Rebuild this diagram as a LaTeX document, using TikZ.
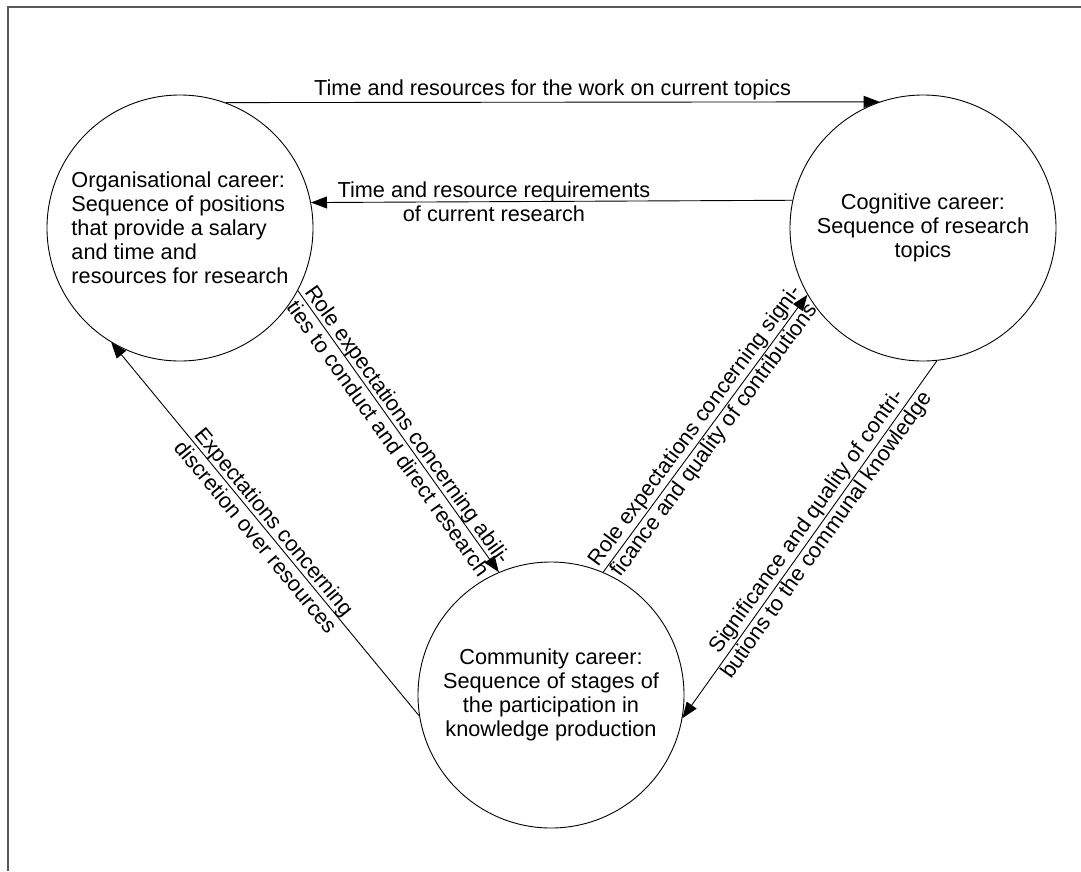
\documentclass[tikz,border=0pt]{standalone}
\usepackage{fontspec}
\setmainfont{Liberation Sans}
\usetikzlibrary{arrows.meta}
\begin{document}
\begin{tikzpicture}[x=1pt,y=-1pt,
  career/.style={circle,draw=black,line width=0.9pt,minimum size=266pt,inner sep=0pt,
    font=\fontsize{21.7}{24}\selectfont},
  flow/.style={draw=black,line width=0.9pt,-{Triangle[length=16pt,width=12pt]}},
  lab/.style={font=\fontsize{21.7}{24}\selectfont,align=center,inner sep=0pt},
  frameline/.style={draw=black!65,line width=1.6pt}]
\useasboundingbox (0,0) rectangle (1081,871);
\coordinate (fa) at (8,871);
\coordinate (fb) at (8,7);
\coordinate (fc) at (1081,7);
\draw[frameline] (fa) -- (fb) -- (fc);

\node[career,align=left] (org) at (180,228) {Organisational career:\\Sequence of positions\\that provide a salary\\and time and\\resources for research};
\node[career,align=center] (cog) at (923,228) {Cognitive career:\\Sequence of research\\topics};
\node[career,align=center] (com) at (551,695) {Community career:\\Sequence of stages of\\the participation in\\knowledge production};

\draw[flow] (org.70.7) -- node[lab,above=2pt] {Time and resources for the work on current topics} (cog.109.3);
\draw[flow] (cog.168.3) -- node[lab,pos=0.62] {Time and resource requirements\\of current research} (org.11.7);
\draw[flow] (org.-28.8) -- node[lab,sloped] {Role expectations concerning abili-\\ties to conduct and direct research} (com.113.4);
\draw[flow] (com.189.5) -- node[lab,sloped] {Expectations concerning\\discretion over resources} (org.239.4);
\draw[flow] (com.67.8) -- node[lab,sloped] {Role expectations concerning signi-\\ficance and quality of contributions} (cog.210.6);
\draw[flow] (cog.276) -- node[lab,sloped,pos=0.47] {Significance and quality of contri-\\butions to the communal knowledge} (com.-10.7);
\end{tikzpicture}
\end{document}
